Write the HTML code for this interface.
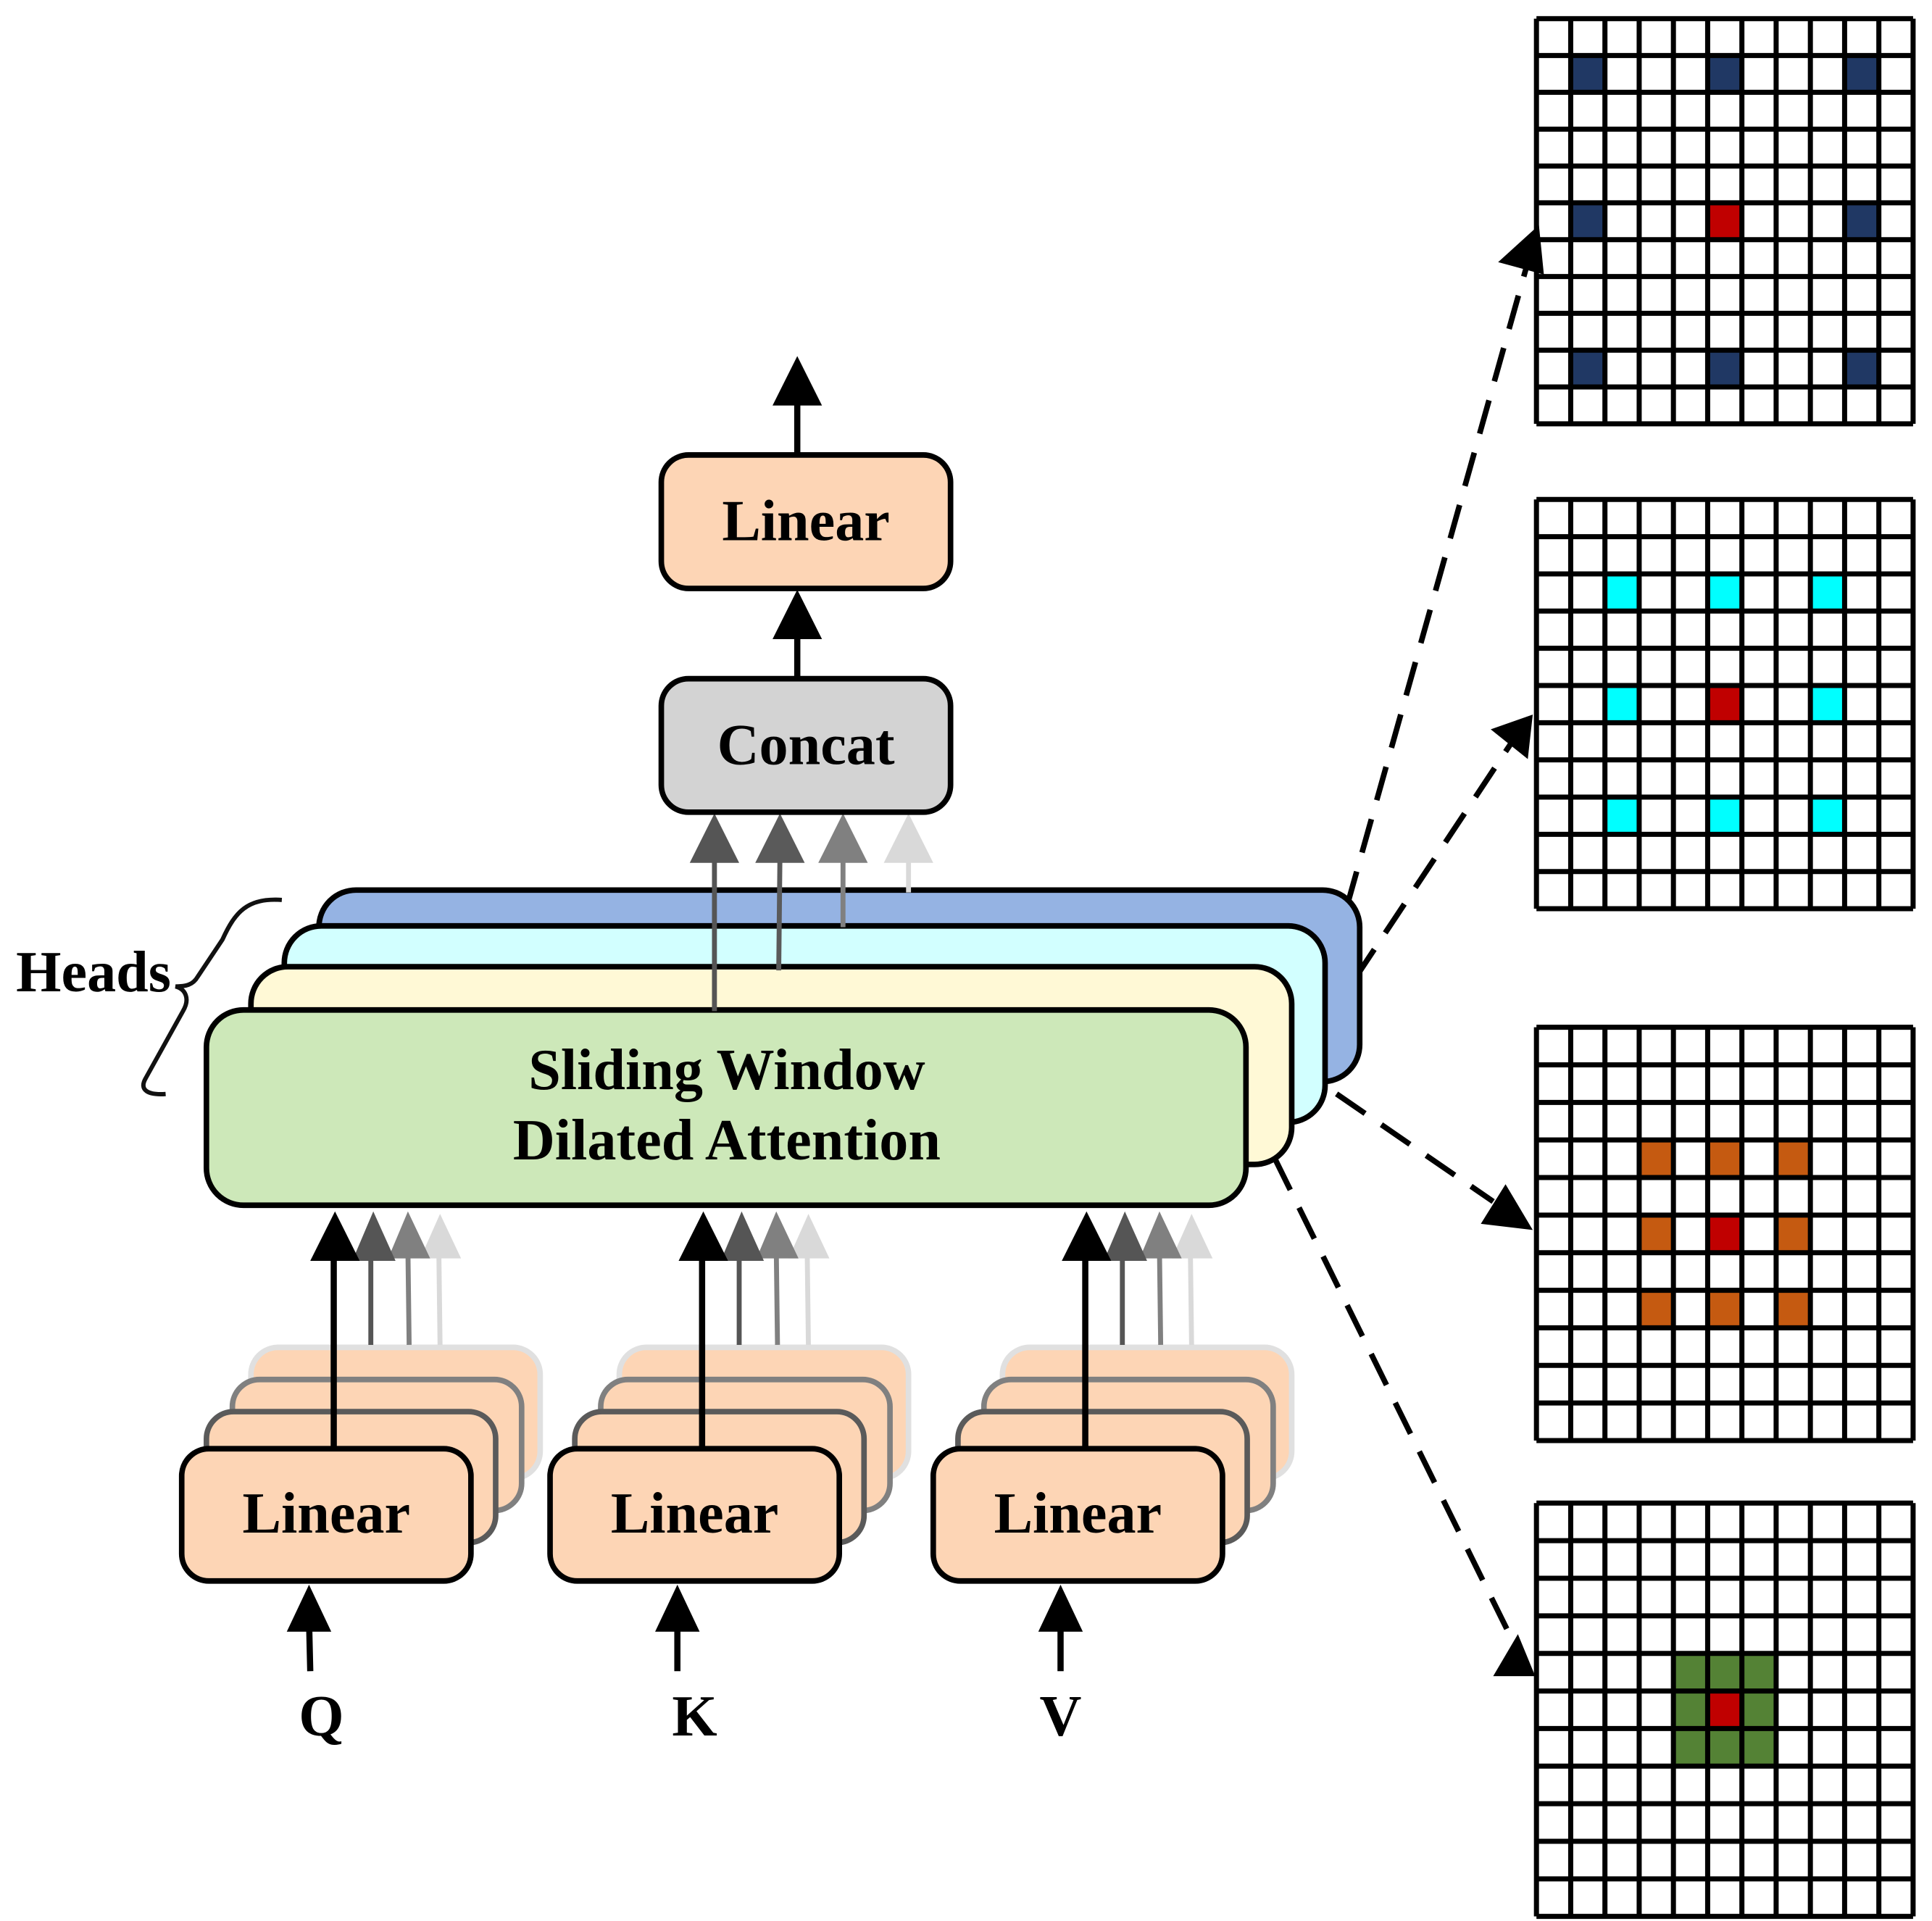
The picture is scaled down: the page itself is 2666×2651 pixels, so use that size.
<!DOCTYPE html>
<html><head><style>html,body{margin:0;padding:0;background:#fff}svg{display:block}</style></head><body>
<svg width="2666" height="2651" viewBox="0 0 1563 1554" xmlns="http://www.w3.org/2000/svg" font-family="'Liberation Serif',serif" font-weight="bold">
<defs>
<g id="gl" fill="none" stroke="#000">
<path vector-effect="non-scaling-stroke" stroke-width="7" d="M0 0V11M1 0V11M2 0V11M3 0V11M4 0V11M5 0V11M6 0V11M7 0V11M8 0V11M9 0V11M10 0V11M11 0V11M0 0H11M0 1H11M0 2H11M0 3H11M0 4H11M0 5H11M0 6H11M0 7H11M0 8H11M0 9H11M0 10H11M0 11H11"/>
</g>
</defs>
<g transform="translate(1243,15) scale(27.7,29.8)">
<rect width="11" height="11" fill="#fff"/>
<g fill="#203864"><rect x="1" y="1" width="1" height="1"/><rect x="5" y="1" width="1" height="1"/><rect x="9" y="1" width="1" height="1"/><rect x="1" y="5" width="1" height="1"/><rect x="9" y="5" width="1" height="1"/><rect x="1" y="9" width="1" height="1"/><rect x="5" y="9" width="1" height="1"/><rect x="9" y="9" width="1" height="1"/></g>
<rect x="5" y="5" width="1" height="1" fill="#c00000"/>
<use href="#gl"/></g>
<g transform="translate(1243,404) scale(27.7,30.1)">
<rect width="11" height="11" fill="#fff"/>
<g fill="#00ffff"><rect x="2" y="2" width="1" height="1"/><rect x="5" y="2" width="1" height="1"/><rect x="8" y="2" width="1" height="1"/><rect x="2" y="5" width="1" height="1"/><rect x="8" y="5" width="1" height="1"/><rect x="2" y="8" width="1" height="1"/><rect x="5" y="8" width="1" height="1"/><rect x="8" y="8" width="1" height="1"/></g>
<rect x="5" y="5" width="1" height="1" fill="#c00000"/>
<use href="#gl"/></g>
<g transform="translate(1243,831) scale(27.7,30.4)">
<rect width="11" height="11" fill="#fff"/>
<g fill="#c55a11"><rect x="3" y="3" width="1" height="1"/><rect x="5" y="3" width="1" height="1"/><rect x="7" y="3" width="1" height="1"/><rect x="3" y="5" width="1" height="1"/><rect x="7" y="5" width="1" height="1"/><rect x="3" y="7" width="1" height="1"/><rect x="5" y="7" width="1" height="1"/><rect x="7" y="7" width="1" height="1"/></g>
<rect x="5" y="5" width="1" height="1" fill="#c00000"/>
<use href="#gl"/></g>
<g transform="translate(1243,1216) scale(27.7,30.4)">
<rect width="11" height="11" fill="#fff"/>
<rect x="4" y="4" width="3" height="3" fill="#548235"/>
<rect x="5" y="5" width="1" height="1" fill="#c00000"/>
<use href="#gl"/></g>

<g stroke="#000" stroke-width="4.5" stroke-dasharray="28,16" fill="none">
<path d="M1090 732 L1236 212"/>
<path d="M1072 828 L1222 602"/>
<path d="M1045 860 L1208 972"/>
<path d="M1012 898 L1226 1332"/>
</g>
<g fill="#000">
<polygon points="1245,182 1249,222 1212,212"/>
<polygon points="1240,578 1236,614 1206,590"/>
<polygon points="1240,995 1198,990 1218,958"/>
<polygon points="1242,1356 1208,1356 1228,1322"/>
</g>

<g stroke="#000" stroke-width="4.5">
<rect x="258" y="720" width="842" height="155" rx="30" fill="#95b3e3"/>
<rect x="230" y="749" width="842" height="159" rx="30" fill="#d2ffff"/>
<rect x="203" y="782" width="842" height="160" rx="30" fill="#fff9d6"/>
<rect x="167" y="817" width="841" height="158" rx="30" fill="#cde8b9"/>
</g>
<text x="588" y="881" font-size="47" text-anchor="middle">Sliding Window</text>
<text x="588" y="938" font-size="47" text-anchor="middle">Dilated Attention</text>
<text x="13" y="802" font-size="47">Heads</text>
<path d="M228 728 C200 726 190 738 180 760 L160 790 C156 797 150 798 142 798 C150 800 154 808 148 818 L118 872 C112 882 120 886 134 885" fill="none" stroke="#111" stroke-width="3.5"/>

<g stroke-width="4">
<line x1="578" y1="818" x2="578" y2="690" stroke="#555"/>
<line x1="630" y1="785" x2="631" y2="690" stroke="#5a5a5a"/>
<line x1="682" y1="750" x2="682" y2="690" stroke="#808080"/>
<line x1="735" y1="722" x2="735" y2="690" stroke="#d9d9d9"/>
</g>
<polygon points="578,658 558,698 598,698" fill="#555"/>
<polygon points="631,658 611,698 651,698" fill="#5a5a5a"/>
<polygon points="682,658 662,698 702,698" fill="#808080"/>
<polygon points="735,658 715,698 755,698" fill="#d9d9d9"/>

<rect x="535" y="549" width="234" height="108" rx="22" fill="#d3d3d3" stroke="#000" stroke-width="4.5"/>
<text x="652" y="618" font-size="47" text-anchor="middle">Concat</text>
<rect x="535" y="368" width="234" height="108" rx="22" fill="#fdd5b5" stroke="#000" stroke-width="4.5"/>
<text x="652" y="437" font-size="47" text-anchor="middle">Linear</text>
<line x1="645" y1="549" x2="645" y2="505" stroke="#000" stroke-width="5"/>
<polygon points="645,477 625,517 665,517" fill="#000"/>
<line x1="645" y1="368" x2="645" y2="320" stroke="#000" stroke-width="5"/>
<polygon points="645,288 625,328 665,328" fill="#000"/>

<g id="grp">
<rect x="203" y="1090" width="234" height="106" rx="22" fill="#fdd5b5" stroke="#e0e0e0" stroke-width="4.5"/>
<rect x="188" y="1116" width="234" height="106" rx="22" fill="#fdd5b5" stroke="#808080" stroke-width="4.5"/>
<rect x="167" y="1142" width="234" height="106" rx="22" fill="#fdd5b5" stroke="#5a5a5a" stroke-width="4.5"/>
<rect x="147" y="1172" width="234" height="107" rx="22" fill="#fdd5b5" stroke="#000" stroke-width="4.5"/>
<text x="264" y="1240" font-size="47" text-anchor="middle">Linear</text>
<g stroke-width="4">
<line x1="300" y1="1088" x2="300" y2="1010" stroke="#555"/>
<line x1="331" y1="1088" x2="330" y2="1010" stroke="#808080"/>
<line x1="356" y1="1088" x2="355" y2="1010" stroke="#d9d9d9"/>
<line x1="270" y1="1172" x2="270" y2="1010" stroke="#000" stroke-width="5"/>
</g>
<polygon points="356,982 340,1018 373,1018" fill="#d9d9d9"/>
<polygon points="330,980 314,1018 348,1018" fill="#808080"/>
<polygon points="302,980 285,1020 320,1020" fill="#555"/>
<polygon points="271,980 251,1020 291,1020" fill="#000"/>
</g>
<use href="#grp" transform="translate(298,0)"/>
<use href="#grp" transform="translate(608,0)"/>

<g stroke="#000" stroke-width="5">
<line x1="251" y1="1352" x2="250" y2="1310"/>
<line x1="548" y1="1352" x2="548" y2="1310"/>
<line x1="858" y1="1352" x2="858" y2="1310"/>
</g>
<polygon points="250,1282 232,1320 268,1320" fill="#000"/>
<polygon points="548,1282 530,1320 566,1320" fill="#000"/>
<polygon points="858,1282 840,1320 876,1320" fill="#000"/>
<text x="260" y="1404" font-size="47" text-anchor="middle">Q</text>
<text x="562" y="1404" font-size="47" text-anchor="middle">K</text>
<text x="858" y="1404" font-size="47" text-anchor="middle">V</text>
</svg>
</body></html>
